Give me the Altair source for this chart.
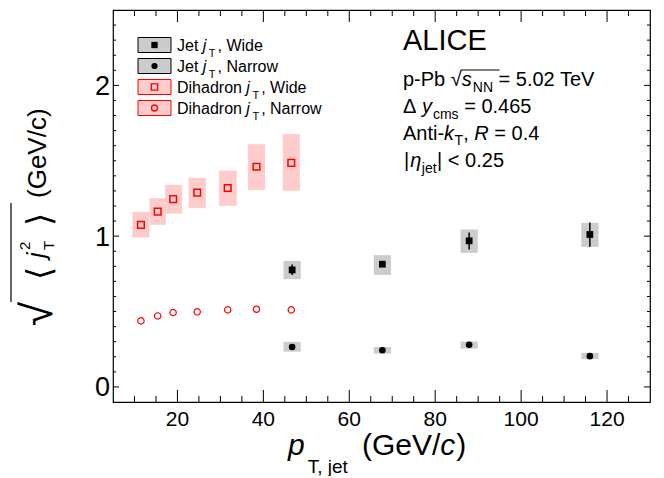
import altair as alt
import pandas as pd

# ---------------- data ----------------
dh_pt = [11.5, 15.4, 19.0, 24.6, 31.7, 38.4, 46.5]
dh_box_lo = [9.5, 13.5, 17.1, 22.6, 29.7, 36.4, 44.5]
dh_box_hi = [13.5, 17.3, 21.1, 26.6, 33.8, 40.4, 48.5]
dh_wide = [1.075, 1.163, 1.246, 1.289, 1.319, 1.460, 1.486]
dh_wide_sys_lo = [0.991, 1.075, 1.150, 1.186, 1.201, 1.307, 1.301]
dh_wide_sys_hi = [1.161, 1.252, 1.340, 1.387, 1.435, 1.610, 1.677]
dh_narrow = [0.438, 0.471, 0.493, 0.498, 0.511, 0.515, 0.511]

jet_pt = [46.7, 67.7, 87.9, 116.0]
jet_box_lo = [44.7, 65.7, 85.9, 114.0]
jet_box_hi = [48.7, 69.7, 89.9, 118.0]
jet_wide = [0.776, 0.814, 0.969, 1.011]
jet_wide_stat_lo = [0.743, 0.803, 0.912, 0.929]
jet_wide_stat_hi = [0.812, 0.826, 1.024, 1.090]
jet_wide_sys_lo = [0.715, 0.743, 0.889, 0.929]
jet_wide_sys_hi = [0.836, 0.874, 1.044, 1.088]
jet_narrow = [0.265, 0.243, 0.279, 0.204]
jet_narrow_sys_lo = [0.234, 0.221, 0.254, 0.184]
jet_narrow_sys_hi = [0.299, 0.265, 0.301, 0.226]

x_major = [20, 40, 60, 80, 100, 120]
x_labels = ["20", "40", "60", "80", "100", "120"]
x_minor = [10, 15, 25, 30, 35, 45, 50, 55, 65, 70, 75, 85, 90, 95, 105, 110, 115, 125]
y_major = [0, 1, 2]
y_labels = ["0", "1", "2"]
y_minor = [0.1, 0.2, 0.3, 0.4, 0.5, 0.6, 0.7, 0.8, 0.9,
           1.1, 1.2, 1.3, 1.4, 1.5, 1.6, 1.7, 1.8, 1.9,
           2.1, 2.2, 2.3, 2.4]

legend_rows = [("Jet", ", Wide"), ("Jet", ", Narrow"),
               ("Dihadron", ", Wide"), ("Dihadron", ", Narrow")]

# ---------------- layout ----------------
W, H = 537, 392
OX, OY = 113, 10          # page position of the plot area's top-left corner
FONT = "Liberation Sans"
xs = alt.Scale(domain=[5, 130], nice=False, zero=False)
ys = alt.Scale(domain=[-0.1, 2.5], nice=False, zero=False)
one = pd.DataFrame({"k": [0]})

HW = {' ': 278, '(': 333, ')': 333, ',': 278, '-': 333, '.': 278, '/': 278,
      '<': 584, '=': 584, '|': 260, 'A': 667, 'C': 722, 'D': 722, 'E': 667,
      'G': 778, 'I': 278, 'J': 500, 'L': 556, 'N': 722, 'P': 667, 'R': 722,
      'T': 611, 'V': 667, 'W': 944, 'a': 556, 'b': 556, 'c': 500, 'd': 556,
      'e': 556, 'h': 556, 'i': 222, 'j': 222, 'k': 500, 'm': 833, 'n': 556,
      'o': 556, 'p': 556, 'r': 333, 's': 500, 't': 278, 'w': 722, 'y': 500,
      'Δ': 668, 'η': 556, '√': 549}


def tw(s, size):
    return sum(HW.get(c, 556) for c in s) / 1000.0 * size


def T(s, x, y, size, italic=False, angle=0, color="black", font=FONT):
    kw = dict(text=s, fontSize=size, font=font, color=color,
              align="left", baseline="alphabetic")
    if italic:
        kw["fontStyle"] = "italic"
    if angle:
        kw["angle"] = angle
    return alt.Chart(one).mark_text(**kw).encode(
        x=alt.value(x - OX), y=alt.value(y - OY))


def chain(frags, x, y):
    """Place text fragments one after another (SVG drops edge spaces, so
    spaces are turned into advances)."""
    out, pos = [], []
    for s, size, ital, dy, gap in frags:
        lead = len(s) - len(s.lstrip(" "))
        x += lead * 0.278 * size
        core = s.strip(" ")
        pos.append(x)
        out.append(T(core, x, y + dy, size, ital))
        x += tw(core, size) + (len(s.rstrip(" ")) < len(s)) * 0.278 * size + gap
    pos.append(x)
    return out, pos


def HR(x1, x2, y, color="black", sw=1.0):
    return alt.Chart(one).mark_rule(color=color, strokeWidth=sw).encode(
        x=alt.value(x1 - OX), x2=alt.value(x2 - OX), y=alt.value(y - OY))


def VR(x, y1, y2, color="black", sw=1.0):
    return alt.Chart(one).mark_rule(color=color, strokeWidth=sw).encode(
        x=alt.value(x - OX), y=alt.value(y1 - OY), y2=alt.value(y2 - OY))


dh = pd.DataFrame(dict(pt=dh_pt, lo=dh_box_lo, hi=dh_box_hi, v=dh_wide,
                       slo=dh_wide_sys_lo, shi=dh_wide_sys_hi, n=dh_narrow))
jet = pd.DataFrame(dict(pt=jet_pt, lo=jet_box_lo, hi=jet_box_hi,
                        w=jet_wide, elo=jet_wide_stat_lo, ehi=jet_wide_stat_hi,
                        wslo=jet_wide_sys_lo, wshi=jet_wide_sys_hi,
                        n=jet_narrow, nslo=jet_narrow_sys_lo, nshi=jet_narrow_sys_hi))

X = lambda f: alt.X(f, scale=xs, axis=None)
Y = lambda f: alt.Y(f, scale=ys, axis=None)

layers = []
# systematic boxes
layers.append(alt.Chart(dh).mark_rect(color="#ffcccc").encode(
    x=X("lo:Q"), x2="hi", y=Y("slo:Q"), y2="shi"))
layers.append(alt.Chart(jet).mark_rect(color="#cccccc").encode(
    x=X("lo:Q"), x2="hi", y=Y("wslo:Q"), y2="wshi"))
layers.append(alt.Chart(jet).mark_rect(color="#cccccc").encode(
    x=X("lo:Q"), x2="hi", y=Y("nslo:Q"), y2="nshi"))
# statistical error bars
layers.append(alt.Chart(jet).mark_rule(color="black", strokeWidth=1.5).encode(
    x=X("pt:Q"), y=Y("elo:Q"), y2="ehi"))
# markers
layers.append(alt.Chart(dh).mark_point(shape="square", filled=False, color="red",
                                       size=44, strokeWidth=1.5, opacity=1).encode(
    x=X("pt:Q"), y=Y("v:Q")))
layers.append(alt.Chart(dh).mark_point(shape="circle", filled=False, color="red",
                                       size=40, strokeWidth=1.2, opacity=1).encode(
    x=X("pt:Q"), y=Y("n:Q")))
layers.append(alt.Chart(jet).mark_point(shape="square", filled=True, color="black",
                                        size=46, opacity=1).encode(
    x=X("pt:Q"), y=Y("w:Q")))
layers.append(alt.Chart(jet).mark_point(shape="circle", filled=True, color="black",
                                        size=44, opacity=1).encode(
    x=X("pt:Q"), y=Y("n:Q")))


# inward ticks on all four sides
def xticks(vals, L):
    d = pd.DataFrame({"v": vals})
    b = alt.Chart(d).mark_rule(color="black", strokeWidth=1).encode(
        x=X("v:Q"), y=alt.value(H), y2=alt.value(H - L))
    t = alt.Chart(d).mark_rule(color="black", strokeWidth=1).encode(
        x=X("v:Q"), y=alt.value(0), y2=alt.value(L))
    return [b, t]


def yticks(vals, L):
    d = pd.DataFrame({"v": vals})
    l = alt.Chart(d).mark_rule(color="black", strokeWidth=1).encode(
        y=Y("v:Q"), x=alt.value(0), x2=alt.value(L))
    r = alt.Chart(d).mark_rule(color="black", strokeWidth=1).encode(
        y=Y("v:Q"), x=alt.value(W), x2=alt.value(W - L))
    return [l, r]


layers += xticks(x_major, 12) + xticks(x_minor, 6)
layers += yticks(y_major, 6) + yticks(y_minor, 3)

# tick labels, placed through the scales
layers.append(alt.Chart(pd.DataFrame({"v": x_major, "t": x_labels})).mark_text(
    font=FONT, fontSize=21, color="black", align="center", baseline="alphabetic").encode(
    x=X("v:Q"), y=alt.value(426 - OY), text="t:N"))
layers.append(alt.Chart(pd.DataFrame({"v": y_major, "t": y_labels})).mark_text(
    font=FONT, fontSize=27, color="black", align="right", baseline="alphabetic", dy=9.5).encode(
    y=Y("v:Q"), x=alt.value(-3), text="t:N"))

# ---------------- legend ----------------
row_c = [45, 66, 87, 108]
box_styles = [("#cccccc", "black"), ("#cccccc", "black"), ("#ffcccc", "red"), ("#ffcccc", "red")]
mk_styles = [("square", True, "black", 40), ("circle", True, "black", 38),
             ("square", False, "red", 40), ("circle", False, "red", 36)]
for i, c in enumerate(row_c):
    fill, stroke = box_styles[i]
    layers.append(alt.Chart(one).mark_rect(fill=fill, stroke=stroke, strokeWidth=1).encode(
        x=alt.value(138 - OX), x2=alt.value(171 - OX),
        y=alt.value(c - 7.5 - OY), y2=alt.value(c + 7.5 - OY)))
    shp, filled, col, sz = mk_styles[i]
    layers.append(alt.Chart(one).mark_point(shape=shp, filled=filled, color=col, size=sz,
                                            strokeWidth=1.4, opacity=1).encode(
        x=alt.value(154.5 - OX), y=alt.value(c - OY)))
    a, b = legend_rows[i]
    frags = [(a + " ", 16, False, 0, 0), ("j", 16, True, 0, 2.5),
             ("T", 11, False, 6.5, 2), (b, 16, False, 0, 0)]
    l, _ = chain(frags, 177, c + 5.5)
    layers += l

# ---------------- annotation ----------------
F, FS = 20, 14
layers.append(T("ALICE", 403, 50, 29))
l, p = chain([("p-Pb ", F, False, 0, 0), ("√", F, False, 0, 0), ("s", F, True, 0, 1),
              ("NN", FS, False, 6, 0), (" = 5.02 TeV", F, False, 0, 0)], 403, 86)
layers += l
layers.append(HR(p[2] - 1, p[4] + 1, 86 - 16, sw=1.2))
l, _ = chain([("Δ ", F, False, 0, 0), ("y", F, True, 0, 1), ("cms", FS, False, 6, 0),
              (" = 0.465", F, False, 0, 0)], 403, 113)
layers += l
l, _ = chain([("Anti-", F, False, 0, 0), ("k", F, True, 0, 0.5), ("T", FS, False, 5, 0),
              (", ", F, False, 0, 0), ("R", F, True, 0, 0), (" = 0.4", F, False, 0, 0)], 403, 140)
layers += l
l, _ = chain([("|", F, False, 0, 1), ("η", F, True, 0, 0.5), ("jet", FS, False, 6, 0.5),
              ("|", F, False, 0, 0), (" < 0.25", F, False, 0, 0)], 404, 167)
layers += l

# ---------------- x title ----------------
l, _ = chain([("p", 30, True, 0, 3), ("T, jet", 19, False, 18, 12),
              ("(GeV/", 30, False, 0, 0), ("c", 30, True, 0, 1), (")", 30, False, 0, 0)],
             288, 455)
layers += l

# ---------------- y title (rotated) ----------------
layers.append(T("(GeV/c)", 46, 198, 26, angle=270))
layers.append(T("⟩", 51, 226, 34, angle=270, font="DejaVu Sans"))
layers.append(T("j", 45, 258, 25, italic=True, angle=270))
layers.append(T("2", 30, 250, 15, angle=270))
layers.append(T("T", 54, 250, 15, angle=270))
layers.append(T("⟨", 51, 280, 34, angle=270, font="DejaVu Sans"))
layers.append(T("√", 52, 326, 44, angle=270))
layers.append(VR(11, 203, 302, sw=1.2))

chart = alt.layer(*layers).properties(
    width=W, height=H, background="white",
    padding={"left": 105, "top": 2, "right": 6, "bottom": 74},
    autosize=alt.AutoSizeParams(type="none"),
).configure_view(stroke="black", strokeWidth=1.2)

chart.save("out.html", embed_options={"renderer": "svg", "actions": False})
